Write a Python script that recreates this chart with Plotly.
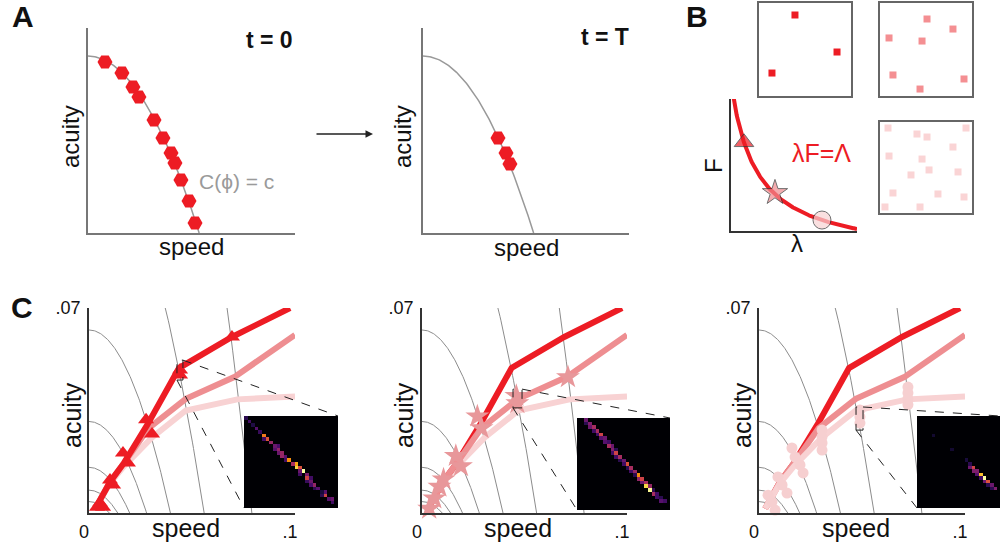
import numpy as np
import plotly.graph_objects as go

W, H = 1000, 550
FONT = "Liberation Sans, Arial, sans-serif"
RED = "#ED1C24"
PINK = "#EE8E91"
LIGHT = "#F8D2D3"

# ---------------- Panel A data (normalised units) ----------------
a_curve_top = 0.863          # acuity at speed 0 of the constraint curve C(phi)=c
a_curve_end = 0.537          # speed where the constraint curve meets the axis
a0_speed = [0.082, 0.164, 0.217, 0.246, 0.319, 0.362, 0.401, 0.420, 0.449, 0.488, 0.517]
a0_acuity = [0.834, 0.780, 0.712, 0.663, 0.551, 0.463, 0.390, 0.341, 0.259, 0.156, 0.049]
aT_speed = [0.364, 0.403, 0.422]
aT_acuity = [0.463, 0.390, 0.337]

# ---------------- Panel B data ----------------
b_curve_params = [0.266, 0.20, 0.206]   # F = a/(lambda+b) - c
b_marker_lambda = [0.103, 0.349, 0.722]
b_marker_F = [0.672, 0.290, 0.083]
box1_x = [0.391, 0.848, 0.141]
box1_y = [0.871, 0.473, 0.247]
box2_x = [0.511, 0.793, 0.098, 0.457, 0.141, 0.913, 0.435]
box2_y = [0.828, 0.720, 0.624, 0.591, 0.226, 0.183, 0.075]
box3_x = [0.087, 0.402, 0.511, 0.935, 0.793, 0.098, 0.457, 0.533, 0.337, 0.848,
          0.141, 0.630, 0.913, 0.054, 0.435]
box3_y = [0.934, 0.868, 0.835, 0.934, 0.725, 0.626, 0.593, 0.473, 0.418, 0.451,
          0.220, 0.209, 0.176, 0.066, 0.066]

# ---------------- Panel C data ----------------
iso_k = 40.0
iso_levels = [0.0039, 0.0078, 0.0156, 0.03125, 0.0625, 0.125, 0.25]
red_speed = [0.003, 0.0065, 0.0102, 0.0170, 0.0282, 0.0437, 0.0694, 0.0976]
red_acuity = [0.0015, 0.0055, 0.0106, 0.0171, 0.0300, 0.0495, 0.0601, 0.0700]
pink_speed = [0.003, 0.0065, 0.0102, 0.0170, 0.0290, 0.0470, 0.0705, 0.1000]
pink_acuity = [0.0015, 0.0055, 0.0106, 0.0171, 0.0290, 0.0390, 0.0464, 0.0608]
light_speed = [0.003, 0.0065, 0.0100, 0.0170, 0.0306, 0.0470, 0.0720, 0.1000]
light_acuity = [0.0015, 0.0055, 0.0100, 0.0160, 0.0258, 0.0350, 0.0388, 0.0398]

tri_speed = [0.0039, 0.0053, 0.0068, 0.0102, 0.0117, 0.0165, 0.0189, 0.0277, 0.0306, 0.0442, 0.0442, 0.0694]
tri_acuity = [0.0020, 0.0034, 0.0020, 0.0113, 0.0096, 0.0205, 0.0171, 0.0318, 0.0270, 0.0488, 0.0471, 0.0601]
star_speed = [0.0035, 0.0060, 0.0085, 0.0105, 0.0165, 0.0190, 0.0270, 0.0290, 0.0460, 0.0465, 0.0712]
star_acuity = [0.0015, 0.0050, 0.0090, 0.0115, 0.0195, 0.0160, 0.0330, 0.0290, 0.0400, 0.0375, 0.0464]
circ_speed = [0.0044, 0.0063, 0.0078, 0.0092, 0.0112, 0.0136, 0.0160, 0.0175, 0.0199, 0.0214,
              0.0306, 0.0306, 0.0306, 0.0306, 0.0490, 0.0490, 0.0490, 0.0723, 0.0723, 0.0723, 0.0723]
circ_acuity = [0.0061, 0.0038, 0.0010, 0.0123, 0.0096, 0.0068, 0.0222, 0.0191, 0.0164, 0.0137,
               0.0283, 0.0260, 0.0239, 0.0215, 0.0352, 0.0328, 0.0307, 0.0430, 0.0410, 0.0390, 0.0370]

# zoom boxes (speed0, speed1, acuity0, acuity1)
zoom1 = [0.0427, 0.0456, 0.0454, 0.0522]
zoom2 = [0.0444, 0.0488, 0.0359, 0.0423]
zoom3 = [0.0471, 0.0505, 0.0283, 0.0362]

# inset heatmaps: (row, col, value)
ins1_r = [0, 1, 3, 5, 6, 7, 8, 9, 10, 10, 11, 11, 12, 13, 13, 14, 14, 15, 16, 16, 17, 18, 19, 20, 21, 21, 22, 23, 23,
          2, 4, 6, 8, 12, 15, 17, 19, 20, 22, 24, 9, 18]
ins1_c = [0, 1, 3, 5, 6, 7, 8, 9, 9, 10, 10, 11, 12, 13, 14, 14, 15, 16, 15, 17, 17, 18, 19, 20, 21, 22, 22, 23, 24,
          2, 4, 5, 9, 11, 15, 18, 18, 19, 21, 24, 8, 17]
ins1_v = [.15, .2, .25, .7, .6, .4, .3, .4, .3, .4, .4, .25, .75, .45, .8, .9, .6, 1.0, .2, .35, .55, .3, .4, .25, .1, .25, .55, .25, .3,
          .12, .18, .2, .22, .2, .3, .2, .22, .15, .15, .2, .25, .18]
ins2_r = [0, 1, 2, 2, 3, 4, 5, 5, 7, 7, 8, 9, 10, 11, 12, 13, 14, 15, 16, 16, 17, 18, 18, 19, 20, 21, 22,
          1, 3, 4, 6, 6, 8, 9, 10, 11, 12, 13, 14, 15, 17, 19, 20, 21, 22]
ins2_c = [2, 3, 3, 4, 5, 6, 6, 7, 8, 9, 9, 10, 11, 12, 13, 14, 15, 16, 16, 17, 18, 18, 19, 19, 20, 21, 22,
          2, 4, 5, 7, 8, 10, 9, 10, 11, 12, 13, 14, 15, 17, 20, 21, 22, 23]
ins2_v = [.3, .35, .3, .45, .45, .55, .25, .3, .45, .3, .35, .55, .45, .3, .6, .45, .4, .75, .4, .55, .45, .9, .4, .98, .45, .2, .25,
          .15, .2, .2, .25, .2, .15, .2, .2, .15, .2, .15, .2, .15, .3, .15, .2, .15, .2]
ins3_r = [5, 9, 12, 13, 14, 14, 15, 15, 16, 16, 17, 18, 18, 19, 20, 17, 19, 20]
ins3_c = [4, 9, 13, 14, 14, 15, 15, 16, 16, 17, 18, 18, 19, 20, 21, 17, 19, 20]
ins3_v = [.08, .08, .1, .15, .3, .55, .35, .35, .25, .85, 1.0, .3, .6, .3, .35, .2, .15, .15]
INSET_N = 26

# ---------------- layout helpers ----------------
AX = {
    1: dict(px=(88, 295), py=(28, 233), xr=[0, 1], yr=[0, 1]),
    2: dict(px=(423, 629), py=(28, 233), xr=[0, 1], yr=[0, 1]),
    3: dict(px=(731, 857), py=(99, 231), xr=[0, 1], yr=[0, 1]),
    4: dict(px=(759, 851), py=(3, 96), xr=[0, 1], yr=[0, 1]),
    5: dict(px=(880, 972), py=(3, 96), xr=[0, 1], yr=[0, 1]),
    6: dict(px=(880, 972), py=(122, 213), xr=[0, 1], yr=[0, 1]),
    7: dict(px=(89, 295), py=(308, 513), xr=[0, 0.1], yr=[0, 0.07]),
    8: dict(px=(422, 627), py=(308, 513), xr=[0, 0.1], yr=[0, 0.07]),
    9: dict(px=(759, 965), py=(308, 513), xr=[0, 0.1], yr=[0, 0.07]),
    10: dict(px=(244, 338), py=(416, 508), xr=[-0.5, INSET_N - 0.5], yr=[INSET_N - 0.5, -0.5]),
    11: dict(px=(577, 670), py=(418, 510), xr=[-0.5, INSET_N - 1.5], yr=[INSET_N - 1.5, -0.5]),
    12: dict(px=(917, 1000), py=(416, 508), xr=[-0.5, 22.1], yr=[INSET_N - 0.5, -0.5]),
}


def px2paper(x, y):
    return x / W, 1 - y / H


def d2p(i, x, y):
    a = AX[i]
    (x0, x1), (y0, y1) = a["px"], a["py"]
    fx = (x - a["xr"][0]) / (a["xr"][1] - a["xr"][0])
    fy = (y - a["yr"][0]) / (a["yr"][1] - a["yr"][0])
    return px2paper(x0 + fx * (x1 - x0), y1 - fy * (y1 - y0))


def ref(i):
    return ("x" if i == 1 else f"x{i}"), ("y" if i == 1 else f"y{i}")


fig = go.Figure()


def add(i, trace):
    xr, yr = ref(i)
    trace.update(xaxis=xr, yaxis=yr)
    fig.add_trace(trace)


# ---------------- Panel A ----------------
s = np.linspace(0, a_curve_end, 100)
curveA = a_curve_top * (1 - (s / a_curve_end) ** 2)
for i, (sx, sy) in [(1, (a0_speed, a0_acuity)), (2, (aT_speed, aT_acuity))]:
    add(i, go.Scatter(x=s, y=curveA, mode="lines", line=dict(color="#999999", width=1.5),
                      hoverinfo="skip", showlegend=False))
    add(i, go.Scatter(x=sx, y=sy, mode="markers", cliponaxis=False,
                      marker=dict(symbol="hexagon2", size=15, color=RED, line=dict(width=0)),
                      showlegend=False))

# ---------------- Panel B ----------------
lam = np.linspace(0.0, 1.0, 200)
pa, pb, pc = b_curve_params
Fv = pa / (lam + pb) - pc
add(3, go.Scatter(x=lam, y=Fv, mode="lines", line=dict(color=RED, width=4), showlegend=False))
add(3, go.Scatter(x=b_marker_lambda, y=b_marker_F, mode="markers", cliponaxis=False,
                  marker=dict(symbol=["triangle-up", "star", "circle"], size=[17, 19, 18],
                              color=[RED, "#F08A8E", "#F9D3D4"], line=dict(color="#333333", width=1)),
                  showlegend=False))
for i, bx, by, col, sym, (mx, my) in [
    (4, box1_x, box1_y, RED, "triangle-up", (0.957, -0.054)),
    (5, box2_x, box2_y, "#F48F92", "star", (0.946, -0.045)),
    (6, box3_x, box3_y, "#FAD4D5", "circle", (0.946, -0.066)),
]:
    add(i, go.Scatter(x=bx, y=by, mode="markers",
                      marker=dict(symbol="square", size=7, color=col), showlegend=False))
    add(i, go.Scatter(x=[mx], y=[my], mode="markers", cliponaxis=False,
                      marker=dict(symbol=sym, size=7, color=col, line=dict(color="#555555", width=0.7)),
                      showlegend=False))

# ---------------- Panel C ----------------
lines = {
    "red": (red_speed, red_acuity, RED),
    "pink": (pink_speed, pink_acuity, PINK),
    "light": (light_speed, light_acuity, LIGHT),
}
orders = {7: ["light", "pink", "red"], 8: ["light", "red", "pink"], 9: ["red", "pink", "light"]}
for i in (7, 8, 9):
    for c in iso_levels:
        sp = np.linspace(0, np.sqrt(c / iso_k), 120)
        add(i, go.Scatter(x=sp, y=c - iso_k * sp ** 2, mode="lines",
                          line=dict(color="#8c8c8c", width=1), hoverinfo="skip", showlegend=False))
    for name in orders[i]:
        lx, ly, lc = lines[name]
        add(i, go.Scatter(x=lx, y=ly, mode="lines", line=dict(color=lc, width=6), showlegend=False))

add(7, go.Scatter(x=tri_speed, y=tri_acuity, mode="markers", cliponaxis=False,
                  marker=dict(symbol="triangle-up", size=14, color=RED), showlegend=False))
add(8, go.Scatter(x=star_speed, y=star_acuity, mode="markers", cliponaxis=False,
                  marker=dict(symbol="star", size=18, color="#E8979A"), showlegend=False))
add(9, go.Scatter(x=circ_speed, y=circ_acuity, mode="markers", cliponaxis=False,
                  marker=dict(symbol="circle", size=11, color="#F6CFD0"), showlegend=False))


def grid(rr, cc, vv):
    z = np.zeros((INSET_N, INSET_N))
    for r, c, v in zip(rr, cc, vv):
        z[r, c] = v
    return z


for i, (rr, cc, vv) in [(10, (ins1_r, ins1_c, ins1_v)), (11, (ins2_r, ins2_c, ins2_v)),
                        (12, (ins3_r, ins3_c, ins3_v))]:
    add(i, go.Heatmap(z=grid(rr, cc, vv), colorscale="Inferno", zmin=0, zmax=1,
                      showscale=False, hoverinfo="skip"))

# ---------------- axes ----------------
layout_axes = {}
for i, a in AX.items():
    xn = "xaxis" if i == 1 else f"xaxis{i}"
    yn = "yaxis" if i == 1 else f"yaxis{i}"
    xr, yr = ref(i)
    x0, x1 = a["px"]
    y0, y1 = a["py"]
    base = dict(showgrid=False, zeroline=False, ticks="", showticklabels=False, fixedrange=True,
                automargin=False)
    xa = dict(base, domain=[x0 / W, x1 / W], range=a["xr"], anchor=yr)
    ya = dict(base, domain=[1 - y1 / H, 1 - y0 / H], range=a["yr"], anchor=xr)
    if i in (1, 2):
        for d in (xa, ya):
            d.update(showline=True, linecolor="#777777", linewidth=1.5)
    elif i == 3:
        for d in (xa, ya):
            d.update(showline=True, linecolor="#333333", linewidth=1.5)
    elif i in (4, 5, 6):
        for d in (xa, ya):
            d.update(showline=True, mirror=True, linecolor="#666666", linewidth=1.5)
    elif i in (7, 8, 9):
        for d in (xa, ya):
            d.update(showline=True, linecolor="#333333", linewidth=1.5, showticklabels=True,
                     tickfont=dict(family=FONT, size=18, color="#111111"))
        xa.update(tickvals=[0, 0.1], ticktext=["0", ".1"], ticklabelshift=-5, ticklabelstandoff=2)
        ya.update(tickvals=[0.07], ticktext=[".07"], ticklabelstandoff=3)
    layout_axes[xn] = xa
    layout_axes[yn] = ya

# ---------------- text ----------------
ann = []


def text(t, x, y, size, color="#111111", bold=False, angle=0):
    px, py = px2paper(x, y)
    ann.append(dict(text=(f"<b>{t}</b>" if bold else t), x=px, y=py, xref="paper", yref="paper",
                    xanchor="center", yanchor="middle", showarrow=False, textangle=angle,
                    font=dict(family=FONT, size=size, color=color)))


text("A", 23, 17, 30, bold=True)
text("B", 697, 17, 30, bold=True)
text("C", 22, 307, 30, bold=True)
text("t = 0", 269, 40, 23, bold=True)
text("t = T", 605, 37, 23, bold=True)
text("C(ϕ) = c", 236, 181, 21, color="#9a9a9a")
for x in (71, 403):
    text("acuity", x, 137, 24, angle=-90)
text("speed", 191, 246, 24)
text("speed", 526, 247, 24)
text("F", 714, 166, 24, angle=-90)
text("λ", 797, 244, 24)
text("λF=Λ", 821, 153, 25, color=RED)
for ax_x, sp_x in [(72, 186), (404, 518), (742, 856)]:
    text("acuity", ax_x, 415, 25, angle=-90)
    text("speed", sp_x, 528, 25)

# arrow between the A panels
ax1, ay1 = px2paper(373, 134)
ann.append(dict(x=ax1, y=ay1, ax=-(373 - 315), ay=0, xref="paper", yref="paper", axref="pixel", ayref="pixel",
                text="", showarrow=True, arrowhead=2, arrowsize=1, arrowwidth=1.5, arrowcolor="#222222"))

# ---------------- zoom shapes ----------------
shapes = []
for i, inset, zb in [(7, 10, zoom1), (8, 11, zoom2), (9, 12, zoom3)]:
    xr, yr = ref(i)
    shapes.append(dict(type="rect", xref=xr, yref=yr, x0=zb[0], x1=zb[1], y0=zb[2], y1=zb[3],
                       line=dict(color="#222222", width=1, dash="dash")))
    ins = AX[inset]
    tr = d2p(i, zb[1], zb[3])
    bl = d2p(i, zb[0], zb[2])
    itr = px2paper(ins["px"][1], ins["py"][0])
    ibl = px2paper(ins["px"][0], ins["py"][1])
    for p, q in [(tr, itr), (bl, ibl)]:
        shapes.append(dict(type="line", xref="paper", yref="paper", x0=p[0], y0=p[1], x1=q[0], y1=q[1],
                           line=dict(color="#222222", width=1, dash="dash")))

fig.update_layout(width=W, height=H, autosize=False,
                  margin=dict(l=0, r=0, t=0, b=0, pad=0, autoexpand=False),
                  paper_bgcolor="white", plot_bgcolor="rgba(0,0,0,0)", showlegend=False,
                  annotations=ann, shapes=shapes, font=dict(family=FONT), **layout_axes)

fig.write_html("out.html", config={"displayModeBar": False},
               post_script="document.body.style.margin='0';document.body.style.overflow='hidden';")
